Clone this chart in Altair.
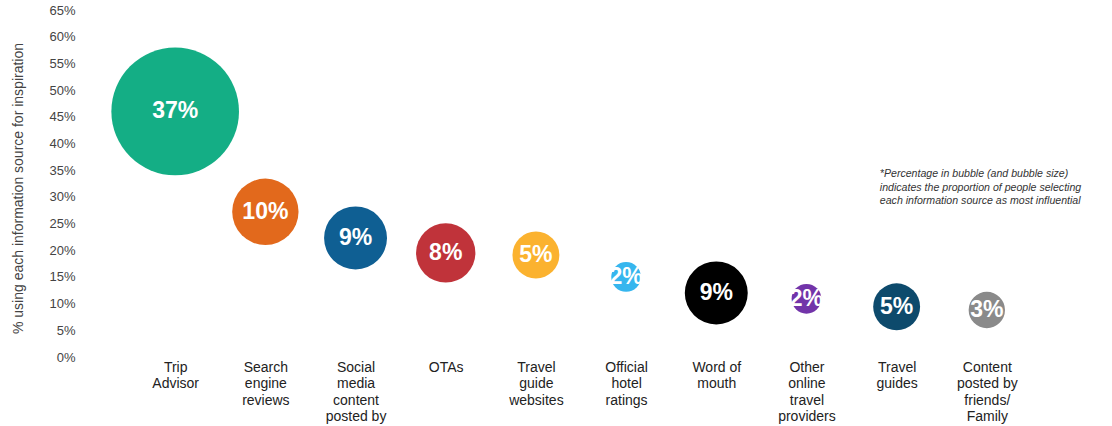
import altair as alt
import pandas as pd

categories = ["Trip|Advisor", "Search|engine|reviews", "Social|media|content|posted by",
              "OTAs", "Travel|guide|websites", "Official|hotel|ratings", "Word of|mouth",
              "Other|online|travel|providers", "Travel|guides", "Content|posted by|friends/|Family"]
pct_inspiration = [46, 27.2, 22.3, 19.5, 19.1, 15.0, 12.0, 10.9, 9.4, 8.8]
pct_most_influential = [37, 10, 9, 8, 5, 2, 9, 2, 5, 3]
colors = ["#14AE85", "#E2691C", "#0F5F93", "#C0333A", "#FBB22F", "#36B6EE",
          "#000000", "#7234A9", "#0D4A6C", "#8A8A8A"]
y_ticks = [0, 5, 10, 15, 20, 25, 30, 35, 40, 45, 50, 55, 60, 65]
note_lines = ["*Percentage in bubble (and bubble size)",
              "indicates the proportion of people selecting",
              "each information source as most influential"]
note_y = [34.2, 31.7, 29.2]

df = pd.DataFrame({
    "cat": categories,
    "insp": pct_inspiration,
    "most": pct_most_influential,
})
df["label"] = df["most"].astype(str) + "%"
note_df = pd.DataFrame({"cat": [categories[-1]] * 3, "insp": note_y, "t": note_lines})

FONT = "Liberation Sans"

x = alt.X("cat:N", sort=categories, title=None,
          scale=alt.Scale(type="point", padding=1),
          axis=alt.Axis(labelExpr="split(datum.label, '|')", labelAngle=0,
                        labelFontSize=14, labelLineHeight=16.5, labelColor="#222222",
                        labelBaseline="top", labelPadding=3, ticks=False, domain=False,
                        labelFont=FONT, labelOverlap=False))
y = alt.Y("insp:Q", title="% using each information source for inspiration",
          scale=alt.Scale(domain=[0, 65], nice=False),
          axis=alt.Axis(values=y_ticks, labelExpr="datum.value + '%'", grid=False,
                        ticks=False, domain=False, labelFontSize=13, labelColor="#444444",
                        labelPadding=10, labelFont=FONT, labelOverlap=False,
                        labelFlush=False, labelBound=False,
                        titleFont=FONT, titleFontSize=14, titleFontWeight="normal",
                        titleColor="#444444", titleX=-67, titleY=178, titleAngle=-90,
                        titleAlign="center", titleBaseline="middle"))

bubbles = alt.Chart(df).mark_circle(opacity=1).encode(
    x=x, y=y,
    size=alt.Size("most:Q", scale=alt.Scale(domain=[0, 37], range=[0, 16286]), legend=None),
    color=alt.Color("cat:N", scale=alt.Scale(domain=categories, range=colors), legend=None),
)
texts = alt.Chart(df).mark_text(font=FONT, fontSize=23, fontWeight="bold", color="white",
                                baseline="middle", align="center").encode(
    x=x, y=y, text="label:N")

note = alt.Chart(note_df).mark_text(font=FONT, fontSize=10.6, fontStyle="italic",
                                    color="#333333", align="left", baseline="middle",
                                    dx=-107).encode(
    x=x, y=y, text="t:N")

chart = alt.layer(bubbles, texts, note).properties(
    width=992, height=347,
    padding={"left": 85, "top": 10, "right": 35, "bottom": 69},
    autosize=alt.AutoSizeParams(type="none"),
).configure(font=FONT).configure_view(strokeWidth=0, stroke=None)

chart.save("out.html", embed_options={"renderer": "svg", "actions": False})
